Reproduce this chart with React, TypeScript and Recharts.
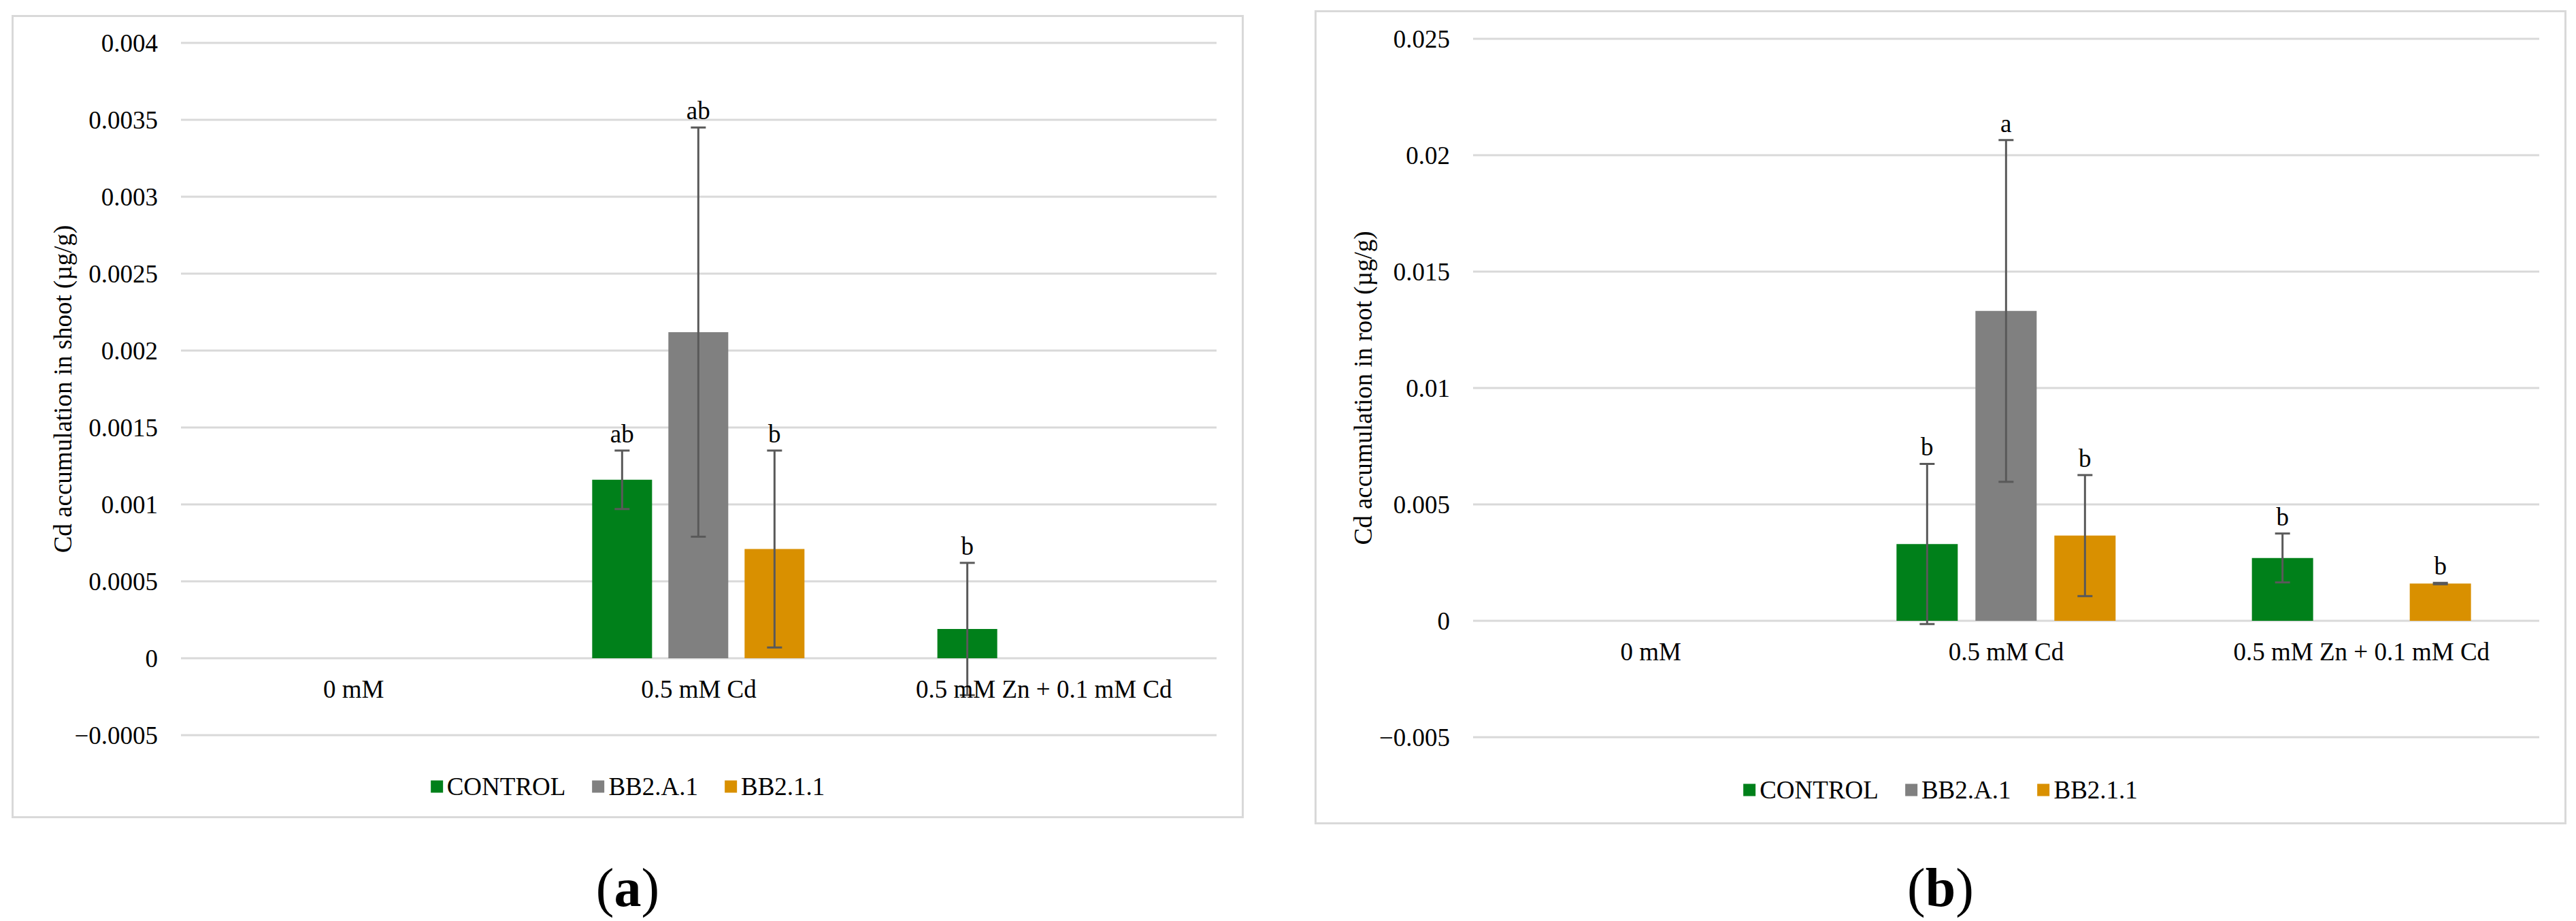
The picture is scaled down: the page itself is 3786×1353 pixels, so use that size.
import React from "react";
import { BarChart, Bar, XAxis, YAxis, CartesianGrid, ErrorBar, LabelList } from "recharts";

const FONT = "'Liberation Serif', 'Times New Roman', serif";
const COLORS = ["#00801A", "#808080", "#D99000"];
const ERR_COLOR = "#595959";
const GRID = "#D9D9D9";

const categories = ["0 mM", "0.5 mM Cd", "0.5 mM Zn + 0.1 mM Cd"];
const seriesNames = ["CONTROL", "BB2.A.1", "BB2.1.1"];

// (a) shoot
const shootControl = [0, 0.00116, 0.00019];
const shootControlErr = [null, 0.00019, 0.00043];
const shootControlLetters = ["", "ab", "b"];
const shootBB2A1 = [0, 0.00212, 0];
const shootBB2A1Err = [null, 0.00133, null];
const shootBB2A1Letters = ["", "ab", ""];
const shootBB211 = [0, 0.00071, 0];
const shootBB211Err = [null, 0.00064, null];
const shootBB211Letters = ["", "b", ""];
const shootTicks = [-0.0005, 0, 0.0005, 0.001, 0.0015, 0.002, 0.0025, 0.003, 0.0035, 0.004];
const shootTickLabels = ["\u22120.0005", "0", "0.0005", "0.001", "0.0015", "0.002", "0.0025", "0.003", "0.0035", "0.004"];

// (b) root
const rootControl = [0, 0.0033, 0.0027];
const rootControlErr = [null, 0.00344, 0.00105];
const rootControlLetters = ["", "b", "b"];
const rootBB2A1 = [0, 0.01331, 0];
const rootBB2A1Err = [null, 0.00734, null];
const rootBB2A1Letters = ["", "a", ""];
const rootBB211 = [0, 0.00366, 0.0016];
const rootBB211Err = [null, 0.0026, 0.00003];
const rootBB211Letters = ["", "b", "b"];
const rootTicks = [-0.005, 0, 0.005, 0.01, 0.015, 0.02, 0.025];
const rootTickLabels = ["\u22120.005", "0", "0.005", "0.01", "0.015", "0.02", "0.025"];

const PAGE_H = 1353;
const Y_AXIS_W = 120;
const X_AXIS_H = 30;
const FS = 37;

type PanelCfg = {
  caption: string;
  yTitle: string;
  values: number[][];
  errors: (number | null)[][];
  letters: string[][];
  ticks: number[];
  tickLabels: string[];
  chartLeft: number;
  chartWidth: number;
  plot: { left: number; right: number; top: number; bottom: number };
  border: { left: number; top: number; right: number; bottom: number };
  titleX: number;
  barCategoryGap: number;
  barGap: number;
  legendY: number;
};

const panels: PanelCfg[] = [
  {
    caption: "a",
    yTitle: "Cd accumulation in shoot (\u00b5g/g)",
    values: [shootControl, shootBB2A1, shootBB211],
    errors: [shootControlErr, shootBB2A1Err, shootBB211Err],
    letters: [shootControlLetters, shootBB2A1Letters, shootBB211Letters],
    ticks: shootTicks,
    tickLabels: shootTickLabels,
    chartLeft: 0,
    chartWidth: 1860,
    plot: { left: 266, right: 1788, top: 63, bottom: 1080 },
    border: { left: 17, top: 22, right: 1828, bottom: 1202 },
    titleX: 92,
    barCategoryGap: 97,
    barGap: 24,
    legendY: 1155,
  },
  {
    caption: "b",
    yTitle: "Cd accumulation in root (\u00b5g/g)",
    values: [rootControl, rootBB2A1, rootBB211],
    errors: [rootControlErr, rootBB2A1Err, rootBB211Err],
    letters: [rootControlLetters, rootBB2A1Letters, rootBB211Letters],
    ticks: rootTicks,
    tickLabels: rootTickLabels,
    chartLeft: 1880,
    chartWidth: 1906,
    plot: { left: 2165, right: 3732, top: 57, bottom: 1083 },
    border: { left: 1932, top: 15, right: 3772, bottom: 1211 },
    titleX: 2003,
    barCategoryGap: 100,
    barGap: 26,
    legendY: 1160,
  },
];

// significance letter above the error bar; the label's value is the category name
const makeLetterLabel =
  (letters: string[], values: number[], errors: (number | null)[]) => (props: any) => {
    const { x, y, width, height, value } = props;
    const i = categories.indexOf(String(value));
    if (i < 0) return null;
    const t = letters[i];
    const v = values[i];
    if (!t || !v) return null;
    const zeroY = Number(y) + Number(height);
    const top = zeroY - ((v + (errors[i] ?? 0)) * Number(height)) / v;
    return (
      <text x={Number(x) + Number(width) / 2} y={top - 12} textAnchor="middle" fontSize={FS} fill="#000" fontFamily={FONT}>
        {t}
      </text>
    );
  };

function Panel({ p }: { p: PanelCfg }) {
  const yMin = p.ticks[0];
  const yMax = p.ticks[p.ticks.length - 1];
  const rows = categories.map((name, i) => ({
    name,
    s0: p.values[0][i],
    e0: p.errors[0][i],
    s1: p.values[1][i],
    e1: p.errors[1][i],
    s2: p.values[2][i],
    e2: p.errors[2][i],
  }));
  const plotH = p.plot.bottom - p.plot.top;
  const zeroY = p.plot.top + (plotH * yMax) / (yMax - yMin);
  const margin = {
    top: p.plot.top,
    bottom: PAGE_H - p.plot.bottom - X_AXIS_H,
    left: p.plot.left - p.chartLeft - Y_AXIS_W,
    right: p.chartLeft + p.chartWidth - p.plot.right,
  };
  const titleY = p.plot.top + plotH / 2;
  const titleX = p.titleX - p.chartLeft;
  const bx = p.border;
  const centerX = (bx.left + bx.right) / 2;

  const CategoryTick = (props: any) => (
    <text x={props.x} y={zeroY + 58} textAnchor="middle" fontSize={FS} fill="#000" fontFamily={FONT}>
      {props.payload.value}
    </text>
  );

  return (
    <>
      <div
        style={{
          position: "absolute",
          left: bx.left,
          top: bx.top,
          width: bx.right - bx.left,
          height: bx.bottom - bx.top,
          border: `3px solid ${GRID}`,
          boxSizing: "border-box",
        }}
      />
      <div style={{ position: "absolute", left: p.chartLeft, top: 0 }}>
        <BarChart
          width={p.chartWidth}
          height={PAGE_H}
          data={rows}
          margin={margin}
          barCategoryGap={p.barCategoryGap}
          barGap={p.barGap}
        >
          <CartesianGrid vertical={false} stroke={GRID} strokeWidth={3} />
          <XAxis
            dataKey="name"
            height={X_AXIS_H}
            axisLine={false}
            tickLine={false}
            interval={0}
            tick={<CategoryTick />}
          />
          <YAxis
            width={Y_AXIS_W}
            domain={[yMin, yMax]}
            ticks={p.ticks}
            interval={0}
            axisLine={false}
            tickLine={false}
            tickSize={0}
            tickMargin={34}
            tick={{ fill: "#000", fontSize: FS, fontFamily: FONT }}
            tickFormatter={(v: number) => p.tickLabels[p.ticks.indexOf(v)] ?? String(v)}
            label={() => (
              <text
                x={titleX}
                y={titleY}
                transform={`rotate(-90 ${titleX} ${titleY})`}
                textAnchor="middle"
                dominantBaseline="central"
                fontSize={FS}
                fill="#000"
                fontFamily={FONT}
              >
                {p.yTitle}
              </text>
            )}
          />
          {[0, 1, 2].map((k) => (
            <Bar key={k} dataKey={`s${k}`} name={seriesNames[k]} fill={COLORS[k]} isAnimationActive={false}>
              <ErrorBar dataKey={`e${k}`} direction="y" width={11} stroke={ERR_COLOR} strokeWidth={3} />
              <LabelList dataKey="name" content={makeLetterLabel(p.letters[k], p.values[k], p.errors[k])} />
            </Bar>
          ))}
        </BarChart>
      </div>
      <div
        style={{
          position: "absolute",
          left: centerX,
          top: p.legendY,
          transform: "translate(-50%, -50%)",
          display: "flex",
          alignItems: "center",
          gap: 39,
          fontFamily: FONT,
          fontSize: FS,
          color: "#000",
          whiteSpace: "nowrap",
        }}
      >
        {seriesNames.map((n, k) => (
          <div key={n} style={{ display: "flex", alignItems: "center", gap: 6 }}>
            <span style={{ display: "inline-block", width: 18, height: 18, background: COLORS[k] }} />
            <span>{n}</span>
          </div>
        ))}
      </div>
      <div
        style={{
          position: "absolute",
          left: centerX,
          top: 1304,
          transform: "translate(-50%, -50%)",
          fontFamily: FONT,
          fontSize: 80,
          color: "#000",
          lineHeight: 1,
        }}
      >
        (<b>{p.caption}</b>)
      </div>
    </>
  );
}

export default function App() {
  return (
    <div
      style={{
        position: "absolute",
        left: 0,
        top: 0,
        width: 3786,
        height: PAGE_H,
        background: "#fff",
        overflow: "hidden",
        fontFamily: FONT,
      }}
    >
      {panels.map((p) => (
        <Panel key={p.caption} p={p} />
      ))}
    </div>
  );
}
